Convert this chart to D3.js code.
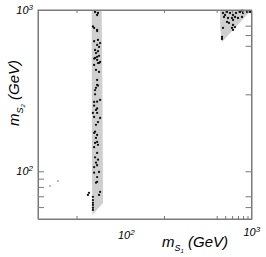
<!DOCTYPE html>
<html><head><meta charset="utf-8">
<script src="https://cdn.jsdelivr.net/npm/d3@7/dist/d3.min.js"></script>
<style>
html,body{margin:0;padding:0;background:#fff;}
svg text{font-family:"Liberation Sans",Arial,sans-serif;font-style:italic;fill:#000;}
</style></head>
<body><svg id="c" width="266" height="257"></svg>
<script>
// ---- data (GeV) ----
const xDomain = [3.63, 1000];
const yDomain = [50.6, 1000];
const xMajorTicks = [10, 100];
const xMinorTicks = [400, 500, 600, 700, 800, 900];
const yLeftTicks = [60, 70, 80, 90, 100];
const yRightTicks = [60, 70, 100, 300, 600, 700, 800];
const xTickLabels = [{v: 100, base: "10", exp: "2"}, {v: 1000, base: "10", exp: "3"}];
const yTickLabels = [{v: 100, base: "10", exp: "2"}, {v: 1000, base: "10", exp: "3"}];
// allowed region (grey) outlines: [mS1, mS2]
const bandRegion = [[14.9,1000],[19.4,1000],[19.8,300],[20.1,63.5],[15.2,53.5],[15.0,100]];
const cornerRegion = [[436,1000],[1000,1000],[460,633],[440,760]];
const greyPoints = [[4.98,81],[6.15,87]];
const bandPoints = [
 [16.3,972],[17.6,958],[17.2,931],[15.9,774],[17.2,752],[17.6,652],[18.6,624],[17.2,607],[18.1,590],
 [16.3,565],[16.7,541],[17.2,512],[16.3,504],[17.2,490],[18.6,476],[17.6,469],[15.9,456],[16.7,425],
 [18.1,413],[17.2,368],[17.2,343],[16.7,329],[16.3,319],[18.6,277],[15.9,269],[16.7,240],[17.2,230],
 [15.9,217],[18.6,214],[17.6,202],[16.7,194],[16.3,176],[15.9,173],[17.2,168],[16.7,161],[17.2,152],
 [16.3,150],[17.6,146],[15.9,141],[17.2,130],[16.3,122],[17.6,118],[16.7,113],[17.2,109],[15.9,106],
 [18.1,99],[15.9,98],[17.2,92],[17.2,86],[16.7,85],[13.9,73.5],[13.5,71.4],[18.6,74.5],[18.1,71.4],
 [15.4,69.4],[15.4,66.3],[15.4,63.7],[15.4,61.9],[15.4,59.4],[15.4,57.6],
 [15.4,790],[17.2,740],[15.9,640],[17.6,555],[18.1,520],[15.9,500],[18.1,470],[17.6,340],[16.3,300],
 [17.2,270],[15.9,255],[17.2,245],[15.4,230]
];
const cornerPoints = [
 [472,958],[498,931],[525,972],[568,958],[615,931],[665,958],[739,972],[800,958],[889,972],[962,972],
 [779,990],[539,892],[598,892],[648,905],[701,892],[779,905],[485,905],[525,843],[553,831],[615,867],
 [615,807],[648,784],[598,774],[615,752],[472,774],[460,680],[460,661]
];

// ---- drawing ----
const svg = d3.select("#c");
const L = 38, R = 251.5, T = 10, B = 219;
const x = d3.scaleLog().domain(xDomain).range([L, R]);
const y = d3.scaleLog().domain(yDomain).range([B, T]);
const axisCol = "#7a7a7a";

const line = d3.line().x(d => x(d[0])).y(d => y(d[1]));
svg.append("path").attr("d", line(bandRegion) + "Z").attr("fill", "#cfcfcf");
svg.append("path").attr("d", line(cornerRegion) + "Z").attr("fill", "#cfcfcf");

svg.selectAll(".gp").data(greyPoints).join("rect")
  .attr("x", d => x(d[0]) - 1).attr("y", d => y(d[1]) - 1).attr("width", 2).attr("height", 2)
  .attr("fill", "#bdbdbd");
svg.selectAll(".bp").data(bandPoints.concat(cornerPoints)).join("circle")
  .attr("cx", d => x(d[0])).attr("cy", d => y(d[1])).attr("r", 1.15).attr("fill", "#111");

function styleAxis(g) {
  g.selectAll("path").attr("stroke", axisCol).attr("stroke-width", 1);
  g.selectAll("line").attr("stroke", axisCol).attr("stroke-width", 1);
  g.selectAll("text").remove();
}
// frame
svg.append("rect").attr("x", L).attr("y", T).attr("width", R - L).attr("height", B - T)
  .attr("fill", "none").attr("stroke", axisCol).attr("stroke-width", 1);

svg.append("g").attr("transform", `translate(0,${B})`)
  .call(d3.axisBottom(x).tickValues(xMajorTicks.concat(xMinorTicks)).tickSize(-3).tickSizeOuter(0)).call(styleAxis);
svg.append("g").attr("transform", `translate(0,${T})`)
  .call(d3.axisTop(x).tickValues(xMajorTicks.concat(xMinorTicks)).tickSize(-3).tickSizeOuter(0)).call(styleAxis);
svg.append("g").attr("transform", `translate(${L},0)`)
  .call(d3.axisLeft(y).tickValues(yLeftTicks).tickSize(-6).tickSizeOuter(0)).call(styleAxis);
svg.append("g").attr("transform", `translate(${R},0)`)
  .call(d3.axisRight(y).tickValues(yRightTicks).tickSize(-6).tickSizeOuter(0)).call(styleAxis);

// tick labels
yTickLabels.forEach(t => {
  const tx = svg.append("text").attr("x", L - 5).attr("y", y(t.v) + 4).attr("text-anchor", "end")
    .attr("font-size", 11);
  tx.append("tspan").text(t.base);
  tx.append("tspan").attr("dy", -4).attr("font-size", 8).text(t.exp);
});
const xLabOffset = {100: -46, 1000: -8};
const xLabBase = {100: 239, 1000: 236};
xTickLabels.forEach(t => {
  const tx = svg.append("text").attr("x", x(t.v) + xLabOffset[t.v]).attr("y", xLabBase[t.v])
    .attr("font-size", 11);
  tx.append("tspan").text(t.base);
  tx.append("tspan").attr("dy", -4).attr("font-size", 8).text(t.exp);
});

// axis titles
const xt = svg.append("text").attr("x", 162).attr("y", 247).attr("font-size", 15);
xt.append("tspan").text("m");
xt.append("tspan").attr("dy", 4).attr("font-size", 9).text("S");
xt.append("tspan").attr("dy", 2).attr("font-size", 6).text("1");
xt.append("tspan").attr("dy", -6).text(" (GeV)");

const yt = svg.append("text").attr("transform", "translate(19,126) rotate(-90)").attr("font-size", 15);
yt.append("tspan").text("m");
yt.append("tspan").attr("dy", 4).attr("font-size", 9).text("S");
yt.append("tspan").attr("dy", 2).attr("font-size", 6).text("2");
yt.append("tspan").attr("dy", -6).text(" (GeV)");
</script></body></html>
